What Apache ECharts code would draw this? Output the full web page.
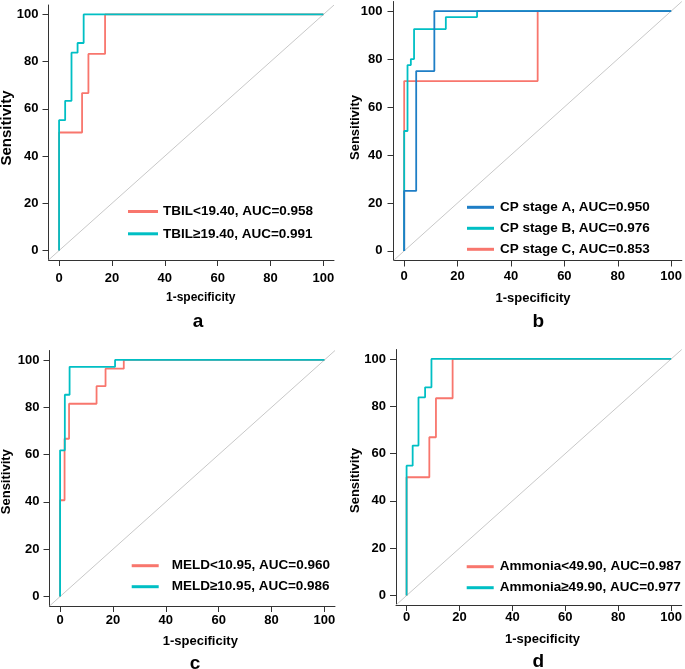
<!DOCTYPE html>
<html>
<head>
<meta charset="utf-8">
<script src="https://cdn.jsdelivr.net/npm/echarts@6/dist/echarts.min.js"></script>
<style>
  html, body { margin: 0; padding: 0; background: #fff; }
  #chart { width: 685px; height: 669px; }
</style>
</head>
<body>
<div id="chart"></div>
<script>
// tick positions shared by every panel
const tickValues = [0, 20, 40, 60, 80, 100];

// a: TBIL (roc operating points, 1-specificity / sensitivity in %)
const tbilLowFpr = [0, 0, 8.7, 11.1, 17.4, 100];
const tbilLowTpr = [0, 50, 66.7, 83.3, 100, 100];
const tbilHighFpr = [0, 0, 2.3, 4.7, 7.0, 9.3, 100];
const tbilHighTpr = [0, 55.2, 63.4, 83.8, 87.9, 100, 100];

// b: Child-Pugh stage
const cpAFpr = [0, 0, 4.5, 11.3, 100];
const cpATpr = [0, 25, 75, 100, 100];
const cpBFpr = [0, 0, 1.25, 2.5, 3.7, 15.6, 27.3, 100];
const cpBTpr = [0, 50, 77.5, 80, 92.5, 97.5, 100, 100];
const cpCFpr = [0, 0, 50, 100];
const cpCTpr = [0, 70.8, 100, 100];

// c: MELD
const meldLowFpr = [0, 0, 1.7, 3.4, 13.8, 17.2, 24.1, 100];
const meldLowTpr = [0, 40.7, 66.7, 81.5, 88.9, 96.3, 100, 100];
const meldHighFpr = [0, 0, 1.8, 3.6, 20.8, 100];
const meldHighTpr = [0, 61.8, 85.3, 97.1, 100, 100];

// d: Ammonia
const ammLowFpr = [0, 0, 8.6, 11.1, 17.4, 100];
const ammLowTpr = [0, 50, 66.9, 83.4, 100, 100];
const ammHighFpr = [0, 0, 2.3, 4.5, 7.0, 9.4, 100];
const ammHighTpr = [0, 54.9, 63.4, 83.8, 88, 100, 100];

const RED = "#F8766D";
const CYAN = "#00BFC4";
const BLUE = "#1E7EC6";
const FONT = "Liberation Sans, Arial, sans-serif";

const zip = (xs, ys) => xs.map((x, i) => [x, ys[i]]);

// panel boxes: plot area from -4 to 104 on both axes
const panels = [
  { left: 48.5, top: 5, width: 285.5, height: 255, xMargin: 12, yMargin: 10 },
  { left: 393.5, top: 1.5, width: 289, height: 259, xMargin: 9, yMargin: 11 },
  { left: 49.5, top: 350.5, width: 285.5, height: 255.5, xMargin: 8, yMargin: 10 },
  { left: 396, top: 349.5, width: 286.5, height: 255.5, xMargin: 5.5, yMargin: 10 }
];

const curves = [
  { grid: 0, name: "TBIL<19.40, AUC=0.958", color: RED, fpr: tbilLowFpr, tpr: tbilLowTpr },
  { grid: 0, name: "TBIL\u226519.40, AUC=0.991", color: CYAN, fpr: tbilHighFpr, tpr: tbilHighTpr },
  { grid: 1, name: "CP stage C, AUC=0.853", color: RED, fpr: cpCFpr, tpr: cpCTpr },
  { grid: 1, name: "CP stage B, AUC=0.976", color: CYAN, fpr: cpBFpr, tpr: cpBTpr },
  { grid: 1, name: "CP stage A, AUC=0.950", color: BLUE, fpr: cpAFpr, tpr: cpATpr },
  { grid: 2, name: "MELD<10.95, AUC=0.960", color: RED, fpr: meldLowFpr, tpr: meldLowTpr },
  { grid: 2, name: "MELD\u226510.95, AUC=0.986", color: CYAN, fpr: meldHighFpr, tpr: meldHighTpr },
  { grid: 3, name: "Ammonia<49.90, AUC=0.987", color: RED, fpr: ammLowFpr, tpr: ammLowTpr },
  { grid: 3, name: "Ammonia\u226549.90, AUC=0.977", color: CYAN, fpr: ammHighFpr, tpr: ammHighTpr }
];

const legends = [
  { left: 128, top: 203.5, itemWidth: 30, gap: 6.3, pad: 0, fontSize: 13.5,
    data: ["TBIL<19.40, AUC=0.958", "TBIL\u226519.40, AUC=0.991"] },
  { left: 467, top: 199.3, itemWidth: 27, gap: 5, pad: 1, fontSize: 13.5,
    data: ["CP stage A, AUC=0.950", "CP stage B, AUC=0.976", "CP stage C, AUC=0.853"] },
  { left: 131.7, top: 557.7, itemWidth: 27, gap: 5, pad: 8, fontSize: 13.5,
    data: ["MELD<10.95, AUC=0.960", "MELD\u226510.95, AUC=0.986"] },
  { left: 466.7, top: 558.7, itemWidth: 27, gap: 5, pad: 1, fontSize: 13.5,
    data: ["Ammonia<49.90, AUC=0.987", "Ammonia\u226549.90, AUC=0.977"] }
];

// axis titles and panel letters: [x, y, font size] centres
const xTitles = [[200.7, 298, 12], [533, 298, 13], [200.3, 641.7, 13], [542.5, 639, 13]];
const yTitles = [[7, 128, 15], [355, 127.5, 13], [6.7, 481.7, 13], [355, 480.5, 13]];
const letters = [["a", 198, 322], ["b", 538.3, 321.7], ["c", 195, 663.3], ["d", 538.3, 661.7]];

const chart = echarts.init(document.getElementById("chart"));

const axisBase = (p, idx, isX) => ({
  gridIndex: idx,
  type: "value",
  min: -4,
  max: 104,
  axisLine: { show: true, onZero: false, lineStyle: { color: "#333", width: 1 } },
  axisTick: { show: true, customValues: tickValues, length: 6, lineStyle: { color: "#333", width: 1 } },
  axisLabel: {
    customValues: tickValues,
    color: "#000",
    fontWeight: "bold",
    fontSize: 13,
    fontFamily: FONT,
    margin: isX ? p.xMargin : p.yMargin
  },
  splitLine: { show: false }
});

const series = [];
panels.forEach((p, i) => {
  series.push({
    type: "line",
    name: "diag" + i,
    xAxisIndex: i,
    yAxisIndex: i,
    data: [[-4, -4], [104, 104]],
    showSymbol: false,
    silent: true,
    clip: true,
    lineStyle: { color: "#C8C8C8", width: 1 },
    itemStyle: { color: "#C8C8C8" }
  });
});
curves.forEach((c) => {
  series.push({
    type: "line",
    name: c.name,
    xAxisIndex: c.grid,
    yAxisIndex: c.grid,
    data: zip(c.fpr, c.tpr),
    step: "end",
    showSymbol: false,
    clip: true,
    color: c.color,
    lineStyle: { color: c.color, width: 1.8 },
    itemStyle: { color: c.color }
  });
});

const graphic = [];
xTitles.forEach(([x, y, fs]) => {
  graphic.push({
    type: "text", x, y,
    style: { text: "1-specificity", font: "bold " + fs + "px " + FONT, fill: "#000", align: "center", verticalAlign: "middle" }
  });
});
yTitles.forEach(([x, y, fs]) => {
  graphic.push({
    type: "text", x, y, rotation: Math.PI / 2,
    style: { text: "Sensitivity", font: "bold " + fs + "px " + FONT, fill: "#000", align: "center", verticalAlign: "middle" }
  });
});
letters.forEach(([t, x, y]) => {
  graphic.push({
    type: "text", x, y,
    style: { text: t, font: "bold 19px " + FONT, fill: "#000", align: "center", verticalAlign: "middle" }
  });
});

const option = {
  animation: false,
  backgroundColor: "#fff",
  grid: panels.map((p) => ({ left: p.left, top: p.top, width: p.width, height: p.height })),
  xAxis: panels.map((p, i) => axisBase(p, i, true)),
  yAxis: panels.map((p, i) => axisBase(p, i, false)),
  legend: legends.map((l) => ({
    data: l.data,
    left: l.left,
    top: l.top,
    orient: "vertical",
    icon: "rect",
    itemWidth: l.itemWidth,
    itemHeight: 3,
    itemGap: l.gap,
    padding: 0,
    selectedMode: false,
    textStyle: {
      color: "#000",
      fontWeight: "bold",
      fontSize: l.fontSize,
      fontFamily: FONT,
      lineHeight: 16,
      padding: [0, 0, 0, l.pad]
    }
  })),
  graphic,
  series
};

chart.setOption(option);
</script>
</body>
</html>
